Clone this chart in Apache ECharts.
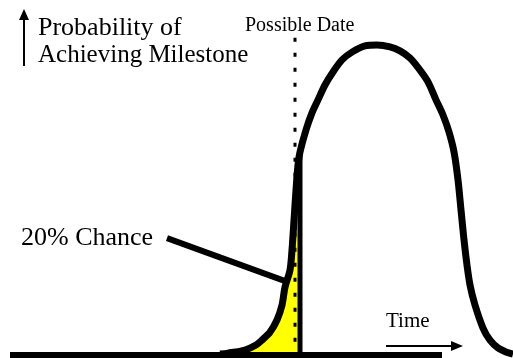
<!DOCTYPE html>
<html>
<head>
<meta charset="utf-8">
<script src="https://cdn.jsdelivr.net/npm/echarts@6/dist/echarts.min.js"></script>
<style>html,body{margin:0;padding:0;background:#fff}#c{width:513px;height:358px}</style>
</head>
<body>
<div id="c"></div>
<script>
// Time (arbitrary units along the axis) and probability of achieving the milestone
const time = [210, 218, 235, 246, 252, 260, 267, 272, 275, 280, 282, 284, 286, 288, 290, 296, 302, 308, 315, 323, 332, 342, 355, 367, 380, 390, 400, 410, 418, 426, 433, 439, 444, 448, 451, 454, 457, 460, 465, 473, 480, 488, 496, 503];
const prob = [0.003, 0.006, 0.016, 0.032, 0.048, 0.074, 0.113, 0.161, 0.219, 0.274, 0.339, 0.435, 0.532, 0.613, 0.655, 0.726, 0.781, 0.823, 0.871, 0.913, 0.952, 0.977, 0.997, 1.000, 0.994, 0.981, 0.958, 0.919, 0.881, 0.823, 0.774, 0.719, 0.655, 0.565, 0.468, 0.371, 0.290, 0.226, 0.161, 0.087, 0.048, 0.023, 0.010, 0.003];
const possibleDate = 290;     // shaded region ends here (20% chance)
const dateMarker = 285;       // dotted "Possible Date" marker
const dateMarkerTop = 1.023;
const axisEnd = 432;          // end of the drawn time axis
const pointerFrom = [157, 0.377];
const pointerTo = [278, 0.235];
const labels = {
  yTitle1: 'Probability of',
  yTitle2: 'Achieving Milestone',
  date: 'Possible Date',
  chance: '20% Chance',
  xTitle: 'Time'
};

const curve = time.map((t, i) => [t, prob[i]]);
const shaded = curve.filter(d => d[0] <= possibleDate);
const pAtDate = prob[time.indexOf(possibleDate)];

const chart = echarts.init(document.getElementById('c'));
const FAM = "'Liberation Serif', 'DejaVu Serif', serif";
function ttl(text, x, baseline, size) {
  return { text: text, left: x, top: baseline - 0.76 * size, padding: 0,
    textStyle: { fontFamily: FAM, fontSize: size, fontWeight: 'normal', color: '#000' } };
}
chart.setOption({
  animation: false,
  backgroundColor: '#fff',
  textStyle: { fontFamily: FAM },
  title: [
    ttl(labels.yTitle1, 38, 35, 26),
    ttl(labels.yTitle2, 38, 62, 25),
    ttl(labels.date, 245, 31, 20),
    ttl(labels.chance, 21, 245, 26),
    ttl(labels.xTitle, 386, 327, 21)
  ],
  grid: { left: 10, right: 0, top: 45, bottom: 3 },
  xAxis: { type: 'value', min: 0, max: 503, show: false },
  yAxis: { type: 'value', min: 0, max: 1, show: false },
  series: [
    { type: 'line', data: shaded, smooth: 0.3, symbol: 'none', clip: false, z: 1,
      lineStyle: { width: 0 }, areaStyle: { color: '#ffff00', opacity: 1 } },
    { type: 'line', data: [[0, 0], [axisEnd, 0]], symbol: 'none', clip: false, z: 2,
      lineStyle: { color: '#000', width: 6, cap: 'butt' } },
    { type: 'line', data: curve, smooth: 0.3, symbol: 'none', clip: false, z: 3,
      lineStyle: { color: '#000', width: 7 } },
    { type: 'line', data: [[possibleDate, 0], [possibleDate, pAtDate]], symbol: 'none', clip: false, z: 4,
      lineStyle: { color: '#000', width: 5 } },
    { type: 'line', data: [[dateMarker, dateMarkerTop], [dateMarker, 0]], symbol: 'none', clip: false, z: 5,
      lineStyle: { color: '#000', width: 3, type: [4, 11], cap: 'butt' } },
    { type: 'line', data: [pointerFrom, pointerTo], symbol: 'none', clip: false, z: 6,
      lineStyle: { color: '#000', width: 6, cap: 'butt' } }
  ],
  graphic: [
    { type: 'line', z: 100, shape: { x1: 24, y1: 16, x2: 24, y2: 66 }, style: { stroke: '#000', lineWidth: 2 } },
    { type: 'polygon', z: 100, shape: { points: [[24, 9], [19, 20], [29, 20]] }, style: { fill: '#000' } },
    { type: 'line', z: 100, shape: { x1: 386, y1: 346, x2: 454, y2: 346 }, style: { stroke: '#000', lineWidth: 2 } },
    { type: 'polygon', z: 100, shape: { points: [[451, 341], [463, 346], [451, 351]] }, style: { fill: '#000' } }
  ]
});
</script>
</body>
</html>
